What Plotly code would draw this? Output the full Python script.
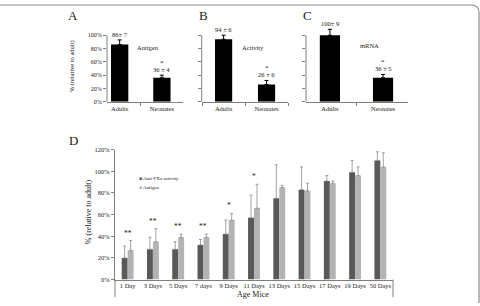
import plotly.graph_objects as go

W, H = 480, 306

# ---------------- data ----------------
groups = ["Adults", "Neonates"]
antigen_ab = [86, 36]
antigen_ab_err = [7, 4]
antigen_ab_lbl = ["86± 7", "36 ± 4"]
activity_ab = [94, 26]
activity_ab_err = [6, 6]
activity_ab_lbl = ["94 ± 6", "26 ± 6"]
mrna_ab = [100, 36]
mrna_ab_err = [9, 5]
mrna_ab_lbl = ["100± 9", "36 ± 5"]
ab_sig = ["", "*"]
ab_ticks = [0, 20, 40, 60, 80, 100]

days = ["1 Day", "3 Days", "5 Days", "7 days", "9 Days", "11 Days",
        "13 Days", "15 Days", "17 Days", "19 Days", "50 Days"]
activity = [20, 28, 28, 32, 42, 57, 75, 83, 91, 99, 110]
activity_err = [11, 11, 7, 5, 13, 21, 31, 21, 5, 11, 8]
antigen = [27, 35, 39, 39, 55, 66, 85, 82, 89, 96, 104]
antigen_err = [9, 12, 3, 3, 6, 22, 2, 7, 2, 8, 13]
day_sig = ["**", "**", "**", "**", "*", "*", "", "", "", "", ""]
d_ticks = [0, 20, 40, 60, 80, 100, 120]

FONT = "Liberation Serif"
AX = "#7f7f7f"
DARK = "#595959"
LIGHT = "#b3b3b3"


def px(x):
    return x / W


def py(y):
    return 1 - y / H


fig = go.Figure()
annotations = []
shapes = []

# ---------------- panels A, B, C ----------------
panels = [
    ("", antigen_ab, antigen_ab_err, antigen_ab_lbl, "Antigen", (107, 183), (-0.30, 1.50), 0.41, (0.67, 82), "A", (73, 12), True),
    ("2", activity_ab, activity_ab_err, activity_ab_lbl, "Activity", (201.7, 288), (-0.51, 1.50), 0.40, (0.69, 82), "B", (203, 12), False),
    ("3", mrna_ab, mrna_ab_err, mrna_ab_lbl, "mRNA", (306, 408), (-0.45, 1.47), 0.38, (0.75, 84), "C", (307, 12), False),
]

for sfx, vals, errs, lbls, name, xr, rng, bw, npos, letter, lpos, showlab in panels:
    xa = "x" + sfx
    ya = "y" + sfx
    fig.add_trace(go.Bar(
        x=groups, y=vals, width=bw, marker=dict(color="black", line=dict(width=0)),
        error_y=dict(type="data", array=errs, arrayminus=[0] * len(errs), symmetric=False,
                     color="black", thickness=1, width=2),
        xaxis=xa, yaxis=ya, showlegend=False))
    fig.layout["xaxis" + sfx] = dict(
        domain=[px(xr[0]), px(xr[1])], anchor=ya, type="category", range=list(rng),
        showline=True, linecolor=AX, linewidth=1, ticks="outside", tickson="boundaries",
        ticklen=3, tickcolor=AX, tickfont=dict(family=FONT, size=6.5, color="#222"),
        showgrid=False, zeroline=False, fixedrange=True)
    fig.layout["yaxis" + sfx] = dict(
        domain=[py(100), py(100 - 68 * 1.15)], anchor=xa, range=[0, 115],
        showline=False, ticks="outside", ticklen=3, tickcolor=AX,
        tickvals=ab_ticks, ticktext=["%d%%" % t for t in ab_ticks],
        showticklabels=showlab, tickfont=dict(family=FONT, size=6, color="#222"),
        showgrid=False, zeroline=False, fixedrange=True)
    shapes.append(dict(type="line", xref=xa + " domain", yref=ya, x0=0, x1=0, y0=0, y1=100,
                       line=dict(color=AX, width=1)))
    for g, v, e, t, s in zip(groups, vals, errs, lbls, ab_sig):
        annotations.append(dict(x=g, y=v + e, xref=xa, yref=ya, text=t, showarrow=False,
                                yanchor="bottom", yshift=0,
                                font=dict(family=FONT, size=6.5, color="#222")))
        if s:
            annotations.append(dict(x=g, y=v + e, xref=xa, yref=ya, text=s, showarrow=False,
                                    yanchor="bottom", yshift=6,
                                    font=dict(family=FONT, size=7, color="#222")))
    annotations.append(dict(x=npos[0], y=npos[1], xref=xa, yref=ya, text=name, showarrow=False,
                            xanchor="center", yanchor="middle",
                            font=dict(family=FONT, size=6.5, color="#222")))
    annotations.append(dict(x=px(lpos[0]), y=py(lpos[1]), xref="paper", yref="paper", text=letter,
                            showarrow=False, xanchor="center", yanchor="middle",
                            font=dict(family=FONT, size=13, color="#222")))

annotations.append(dict(x=px(72), y=py(64), xref="paper", yref="paper", text="% (relative to adult)",
                        textangle=-90, showarrow=False, xanchor="center", yanchor="middle",
                        font=dict(family=FONT, size=6.5, color="#222")))

# ---------------- panel D ----------------
fig.add_trace(go.Bar(
    x=days, y=activity, name="Anti-FXa activity", marker=dict(color=DARK, line=dict(width=0)),
    error_y=dict(type="data", array=activity_err, arrayminus=[0] * len(days), symmetric=False,
                 color="#8c8c8c", thickness=0.8, width=1.5),
    xaxis="x4", yaxis="y4", showlegend=False))
fig.add_trace(go.Bar(
    x=days, y=antigen, name="Antigen", marker=dict(color=LIGHT, line=dict(width=0)),
    error_y=dict(type="data", array=antigen_err, arrayminus=[0] * len(days), symmetric=False,
                 color="#8c8c8c", thickness=0.8, width=1.5),
    xaxis="x4", yaxis="y4", showlegend=False))

fig.layout["xaxis4"] = dict(
    domain=[px(115), px(393)], anchor="y4", type="category", range=[-0.5, 10.5],
    showline=True, linecolor=AX, linewidth=1, ticks="", ticklen=0,
    tickfont=dict(family=FONT, size=6.5, color="#222"), showgrid=False, zeroline=False,
    fixedrange=True)
fig.layout["yaxis4"] = dict(
    domain=[py(282), py(149)], anchor="x4", range=[0, 120],
    showline=True, linecolor=AX, linewidth=1, ticks="outside", ticklen=3, tickcolor=AX,
    tickvals=d_ticks, ticktext=["%d%%" % t for t in d_ticks],
    tickfont=dict(family=FONT, size=6.5, color="#222"), showgrid=False, zeroline=False,
    fixedrange=True)

for d, a, ae, g, ge, s in zip(days, activity, activity_err, antigen, antigen_err, day_sig):
    if s:
        annotations.append(dict(x=d, y=max(a + ae, g + ge), xref="x4", yref="y4", text=s,
                                showarrow=False, yanchor="bottom", yshift=1,
                                font=dict(family=FONT, size=7.5, color="#222")))

for xv in (115, 393):
    shapes.append(dict(type="line", xref="paper", yref="paper", x0=px(xv), x1=px(xv),
                       y0=py(282), y1=py(300), line=dict(color=AX, width=1)))

annotations += [
    dict(x=px(73), y=py(140), xref="paper", yref="paper", text="D", showarrow=False,
         xanchor="center", yanchor="middle", font=dict(family=FONT, size=13, color="#222")),
    dict(x=px(88), y=py(213), xref="paper", yref="paper", text="% (relative to adult)",
         textangle=-90, showarrow=False, xanchor="center", yanchor="middle",
         font=dict(family=FONT, size=8, color="#222")),
    dict(x=px(253), y=py(297), xref="paper", yref="paper", text="Age Mice", showarrow=False,
         xanchor="center", yanchor="middle", font=dict(family=FONT, size=8, color="#222")),
    dict(x=px(136.5), y=py(179), xref="paper", yref="paper",
         text="<span style='color:%s'>■</span> Anti-FXa activity" % DARK, showarrow=False,
         xanchor="left", yanchor="middle", font=dict(family=FONT, size=5, color="#222")),
    dict(x=px(136.5), y=py(188), xref="paper", yref="paper",
         text="<span style='color:%s'>■</span> Antigen" % LIGHT, showarrow=False,
         xanchor="left", yanchor="middle", font=dict(family=FONT, size=5, color="#222")),
]

shapes.append(dict(type="path", xref="paper", yref="paper",
                   path="M 0,%f L %f,%f Q %f,%f %f,%f L %f,0" % (
                       py(1), px(471), py(1), px(479), py(1), px(479), py(9), px(479)),
                   line=dict(color="#8a8a8a", width=1.2)))

fig.update_layout(
    width=W, height=H, margin=dict(l=0, r=0, t=0, b=0),
    paper_bgcolor="white", plot_bgcolor="white",
    barmode="group", bargap=0.53, bargroupgap=0,
    annotations=annotations, shapes=shapes,
    font=dict(family=FONT, color="#222"),
)

fig.write_html("out.html")
